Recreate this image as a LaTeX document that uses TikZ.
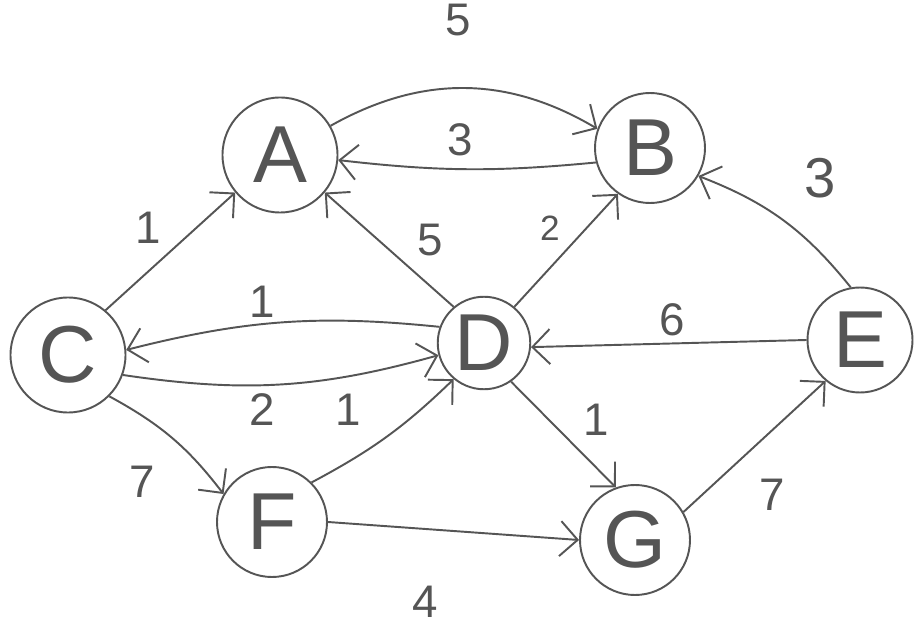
\documentclass[tikz,border=0pt]{standalone}
\usepackage{fontspec}
\setmainfont{Liberation Sans}
\usetikzlibrary{arrows.meta}
\definecolor{pencil}{HTML}{555555}
\begin{document}
\begin{tikzpicture}[x=0.2mm,y=-0.2mm,
  vertex/.style={draw=pencil, line width=1.1pt, circle, minimum size=#1,
    inner sep=0pt, text=pencil, font=\fontsize{46}{46}\selectfont},
  vertex/.default=2.2cm,
  edge/.style={draw=pencil, line width=1.1pt,
    -{Straight Barb[length=3.5mm,width=7mm]}},
  weight/.style={text=pencil, font=\fontsize{26}{26}\selectfont}]
\useasboundingbox (0,0) rectangle (916,632);
\fill[white] (0,0) rectangle (916,632);

% vertices
\node[vertex=2.3cm] (A) at (280,155) {A};
\node[vertex=2.2cm] (B) at (650,148) {B};
\node[vertex=2.3cm] (C) at (68,355) {C};
\node[vertex=1.85cm] (D) at (484,343) {D};
\node[vertex=2.1cm] (E) at (860,340) {E};
\node[vertex=2.2cm] (F) at (272,522) {F};
\node[vertex=2.2cm] (G) at (635,540) {G};

% directed edges
\draw[edge] (A.30) to[bend left=30] (B.160);
\draw[edge] (B.195) to[bend left=6] (A.-5);
\draw[edge] (C.50) -- (A.220);
\draw[edge] (D.130) -- (A.-40);
\draw[edge] (D.50) -- (B.235);
\draw[edge] (E.100) to[bend right=15] (B.-30);
\draw[edge] (D.160) to[bend right=10] (C.5);
\draw[edge] (C.-20) to[bend right=12] (D.195);
\draw[edge] (E.180) -- (D.-5);
\draw[edge] (C.-45) to[bend left=12] (F.150);
\draw[edge] (F.45) to[bend right=8] (D.230);
\draw[edge] (D.-55) -- (G.110);
\draw[edge] (F.0) -- (G.180);
\draw[edge] (G.30) -- (E.230);

% weights
\node[weight] (w1) at (458,20) {5};
\node[weight] (w2) at (460,140) {3};
\node[weight] (w3) at (148,228) {1};
\node[weight] (w4) at (430,240) {5};
\node[weight, font=\fontsize{20}{20}\selectfont] (w5) at (550,228) {2};
\node[weight, font=\fontsize{32}{32}\selectfont] (w6) at (820,178) {3};
\node[weight] (w7) at (262,302) {1};
\node[weight] (w8) at (672,320) {6};
\node[weight] (w9) at (262,410) {2};
\node[weight] (w10) at (348,410) {1};
\node[weight] (w11) at (596,420) {1};
\node[weight] (w12) at (142,482) {7};
\node[weight] (w13) at (772,495) {7};
\node[weight] (w14) at (425,602) {4};
\end{tikzpicture}
\end{document}
